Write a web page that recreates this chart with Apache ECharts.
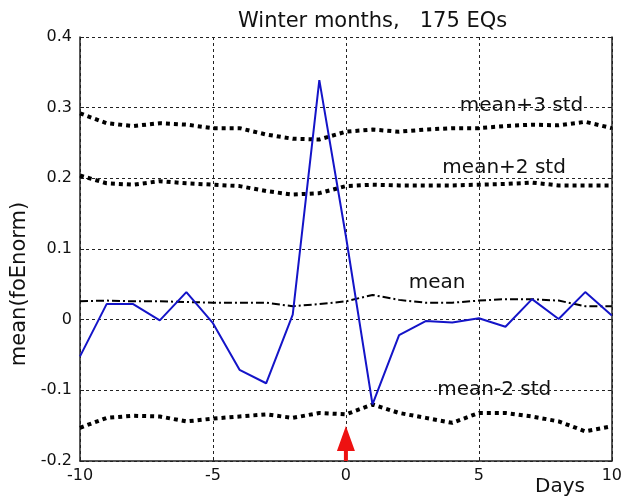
<!DOCTYPE html>
<html>
<head>
<meta charset="utf-8">
<script src="https://cdn.jsdelivr.net/npm/echarts@6/dist/echarts.min.js"></script>
<style>html,body{margin:0;padding:0;background:#fff;}#c{width:625px;height:502px;}</style>
</head>
<body>
<div id="c"></div>
<script>
const days = [-10,-9,-8,-7,-6,-5,-4,-3,-2,-1,0,1,2,3,4,5,6,7,8,9,10];
const foEnorm = [-0.052,0.022,0.022,-0.001,0.039,-0.005,-0.071,-0.090,0.007,0.339,0.118,-0.120,-0.022,-0.002,-0.004,0.002,-0.010,0.029,0.001,0.039,0.006];
const meanLine = [0.026,0.027,0.026,0.026,0.025,0.024,0.024,0.024,0.019,0.022,0.026,0.035,0.028,0.024,0.024,0.027,0.029,0.029,0.027,0.019,0.019];
const meanPlus3 = [0.292,0.278,0.274,0.278,0.276,0.271,0.271,0.262,0.256,0.255,0.266,0.269,0.266,0.269,0.271,0.271,0.274,0.276,0.275,0.280,0.271];
const meanPlus2 = [0.204,0.193,0.191,0.196,0.193,0.191,0.189,0.182,0.177,0.179,0.189,0.191,0.190,0.190,0.190,0.191,0.192,0.194,0.190,0.190,0.190];
const meanMinus2 = [-0.153,-0.139,-0.136,-0.137,-0.144,-0.140,-0.137,-0.134,-0.139,-0.132,-0.134,-0.120,-0.132,-0.139,-0.146,-0.132,-0.132,-0.137,-0.144,-0.158,-0.151];
const xTicks = [-10,-5,0,5,10];
const yTicks = [-0.2,-0.1,0,0.1,0.2,0.3,0.4];
const titleText = 'Winter months,   175 EQs';
const yName = 'mean(foEnorm)';
const xName = 'Days';
const eqDay = 0;

const FONT = 'DejaVu Sans';
const pair = arr => days.map((d,i)=>[d, arr[i]]);
const txt = {fontFamily: FONT, color: '#111'};

function labelPoint(name, coord) {
  return {
    symbol: 'circle', symbolSize: 0, silent: true,
    label: {show: true, position: 'inside', fontFamily: FONT, fontSize: 20, color: '#111'},
    data: [{name: name, coord: coord, value: name}]
  };
}

const chart = echarts.init(document.getElementById('c'), null, {renderer: 'canvas'});
chart.setOption({
  animation: false,
  backgroundColor: '#fff',
  title: [
    {text: titleText, left: 238, top: 11, padding: 0, textStyle: Object.assign({fontSize: 21, fontWeight: 'normal'}, txt)},
    {text: xName, left: 535, top: 477, padding: 0, textStyle: Object.assign({fontSize: 20, fontWeight: 'normal'}, txt)}
  ],
  grid: {left: 80, right: 9, top: 37, bottom: 41, show: false},
  xAxis: {
    type: 'value', min: xTicks[0], max: xTicks[xTicks.length-1], interval: 5,
    axisLine: {show: true, onZero: false, lineStyle: {color: '#222', width: 1.5}},
    axisTick: {show: true, inside: true, length: 4, lineStyle: {color: '#222'}},
    axisLabel: {margin: 7, fontFamily: FONT, fontSize: 16, color: '#111', formatter: v => String(v)},
    splitLine: {show: true, lineStyle: {color: '#222', type: [3,3], width: 1}}
  },
  yAxis: [
    {
      type: 'value', min: yTicks[0], max: yTicks[yTicks.length-1], interval: 0.1,
      name: yName, nameLocation: 'middle', nameGap: 50, nameRotate: 90,
      nameTextStyle: {fontFamily: FONT, fontSize: 21, color: '#111', padding: [0,0,0,-70]},
      axisLine: {show: true, onZero: false, lineStyle: {color: '#222', width: 1.5}},
      axisTick: {show: true, inside: true, length: 4, lineStyle: {color: '#222'}},
      axisLabel: {margin: 8, fontFamily: FONT, fontSize: 16, color: '#111', formatter: v => String(Math.round(v*10)/10)},
      splitLine: {show: true, lineStyle: {color: '#222', type: [3,3], width: 1}}
    },
    {
      type: 'value', min: yTicks[0], max: yTicks[yTicks.length-1], interval: 0.1, position: 'right',
      axisLine: {show: true, onZero: false, lineStyle: {color: '#222', width: 1.5}},
      axisTick: {show: true, inside: true, length: 4, lineStyle: {color: '#222'}},
      axisLabel: {show: false}, splitLine: {show: false}
    }
  ],
  series: [
    {
      type: 'line', name: 'mean+3 std', data: pair(meanPlus3), showSymbol: false, z: 3,
      lineStyle: {color: '#000', width: 4, type: [4,4], cap: 'butt'},
      markPoint: labelPoint('mean+3 std', [6.6, 0.302])
    },
    {
      type: 'line', name: 'mean+2 std', data: pair(meanPlus2), showSymbol: false, z: 3,
      lineStyle: {color: '#000', width: 4, type: [4,4], cap: 'butt'},
      markPoint: labelPoint('mean+2 std', [5.95, 0.215])
    },
    {
      type: 'line', name: 'mean', data: pair(meanLine), showSymbol: false, z: 3,
      lineStyle: {color: '#000', width: 2, type: [8,3,2,3]},
      markPoint: labelPoint('mean', [3.43, 0.052])
    },
    {
      type: 'line', name: 'mean-2 std', data: pair(meanMinus2), showSymbol: false, z: 3,
      lineStyle: {color: '#000', width: 4, type: [4,4], cap: 'butt'},
      markPoint: labelPoint('mean-2 std', [5.58, -0.099])
    },
    {
      type: 'line', name: 'foEnorm', data: pair(foEnorm), showSymbol: false, z: 4,
      lineStyle: {color: '#1414c8', width: 2},
      markPoint: {
        silent: true,
        symbol: 'path://M9,0 L18,25 L11,25 L11,35 L7,35 L7,25 L0,25 Z',
        symbolSize: [18, 35], symbolOffset: [0, '-50%'], symbolKeepAspect: false,
        itemStyle: {color: '#ee1111'},
        label: {show: false},
        data: [{coord: [eqDay, yTicks[0]]}]
      }
    }
  ]
});
</script>
</body>
</html>
